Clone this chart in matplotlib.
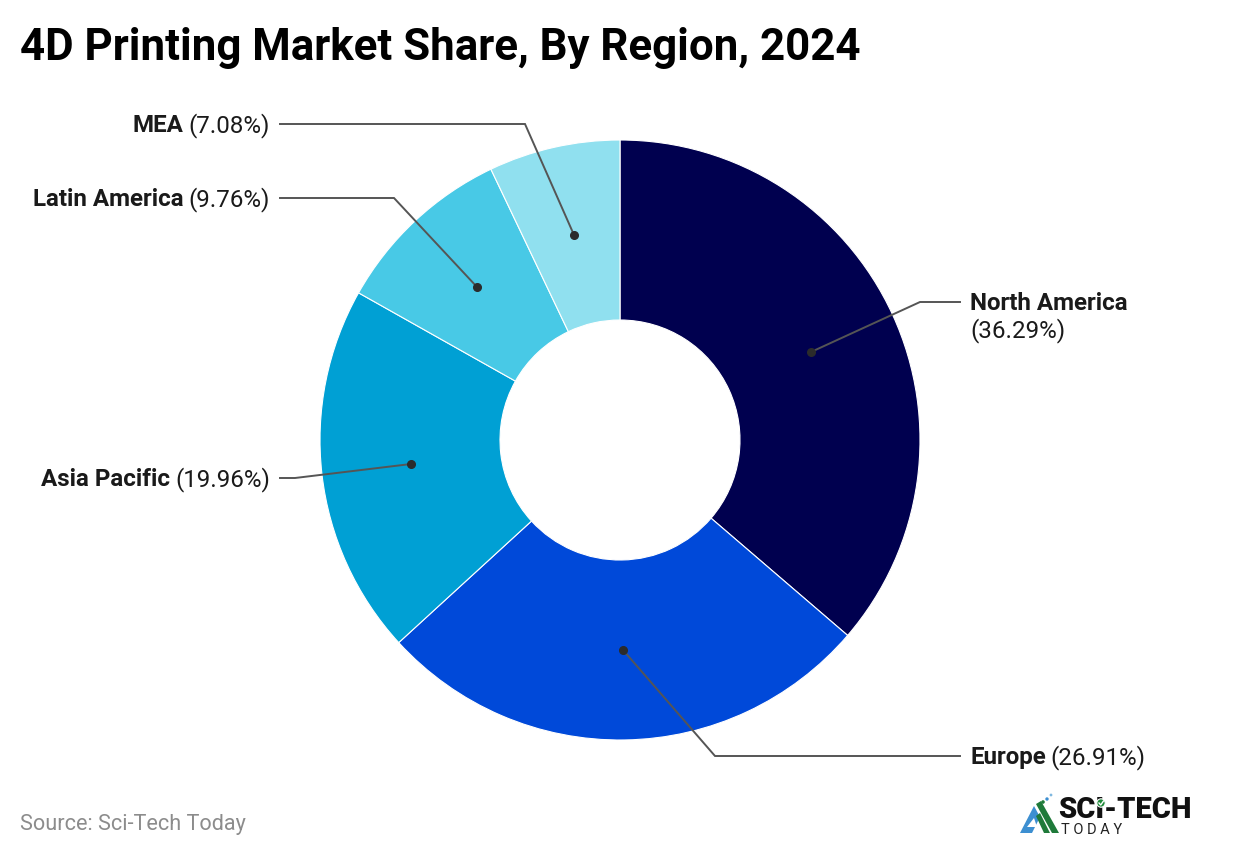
import matplotlib
matplotlib.use("Agg")
import matplotlib.pyplot as plt
from matplotlib.patches import Polygon, Circle

labels = ["North America", "Europe", "Asia Pacific", "Latin America", "MEA"]
shares = [36.29, 26.91, 19.96, 9.76, 7.08]
share_labels = ["(36.29%)", "(26.91%)", "(19.96%)", "(9.76%)", "(7.08%)"]
colors = ["#00004f", "#0049d9", "#00a0d4", "#48c9e6", "#90e0ef"]
title = "4D Printing Market Share, By Region, 2024"
source = "Source: Sci-Tech Today"

plt.rcParams['font.family'] = ['Roboto', 'DejaVu Sans']
W, H = 1240, 856
fig = plt.figure(figsize=(W/100, H/100), dpi=100)
ax = fig.add_axes([0, 0, 1, 1])

cx, cy, R, r = 620, 440, 300, 120
# y axis is inverted (pixel coordinates): angles run clockwise on screen, -90 is the top
ax.pie(shares, colors=colors, startangle=-90, counterclock=True, center=(cx, cy), radius=R,
       wedgeprops=dict(width=R-r, edgecolor='white', linewidth=0.8), frame=False)
ax.set_xlim(0, W)
ax.set_ylim(H, 0)
ax.set_aspect('auto')
ax.axis('off')

lc = "#555555"
leaders = [
    ((811, 352), (920, 302), (960, 302)),
    ((623, 650), (715, 756), (960, 756)),
    ((411, 464), (295, 478), (280, 478)),
    ((477, 287), (394, 198), (280, 198)),
    ((574, 235), (525, 124), (280, 124)),
]
for d, e, t in leaders:
    ax.plot([d[0], e[0], t[0]], [d[1], e[1], t[1]], color=lc, lw=1.4, solid_joinstyle='miter', zorder=5)
    ax.plot(*d, 'o', color="#2b2b2b", ms=5.5, zorder=6)

tc = "#1a1a1a"
fs = 17.4
dy = 1.5
def right_label(y, name, val):
    t = ax.text(270, y + dy, val, ha='right', va='center', fontsize=fs, color=tc)
    fig.canvas.draw()
    bb = t.get_window_extent()
    ax.text(bb.x0 - 5, y + dy, name, ha='right', va='center', fontsize=fs, color=tc, fontweight='bold')

right_label(478, labels[2], share_labels[2])
right_label(198, labels[3], share_labels[3])
right_label(124, labels[4], share_labels[4])
ax.text(970, 302 + dy, labels[0], ha='left', va='center', fontsize=fs, color=tc, fontweight='bold')
ax.text(970, 331, share_labels[0], ha='left', va='center', fontsize=fs, color=tc)
t = ax.text(970, 756 + dy, labels[1], ha='left', va='center', fontsize=fs, color=tc, fontweight='bold')
fig.canvas.draw()
ax.text(t.get_window_extent().x1 + 5, 756 + dy, share_labels[1], ha='left', va='center', fontsize=fs, color=tc)

ax.text(20, 47.5, title, ha='left', va='center', fontsize=31.6, fontweight='bold', color='black')
ax.text(20, 824.5, source, ha='left', va='center', fontsize=15.6, color='#8c8c8c')

# logo
blue = '#3d8fd1'
green = '#1f7a3a'
ax.add_patch(Polygon([(1020,833),(1034,806),(1040,817),(1032,833)], closed=True, fc=blue, ec='none', zorder=3))
ax.add_patch(Polygon([(1027,827),(1034,818),(1037,827)], closed=True, fc='white', ec='none', zorder=4))
ax.add_patch(Polygon([(1036,804),(1041,801),(1059,833),(1052,833)], closed=True, fc=green, ec='none', zorder=3))
ax.add_patch(Polygon([(1036,816),(1040,813),(1050,833),(1044,833)], closed=True, fc=green, ec='none', zorder=3))
ax.add_patch(Circle((1047, 799), 1.7, fc='#3d8fd1', ec='none'))
ax.add_patch(Circle((1051, 795), 1.4, fc='#7fb8e0', ec='none'))
ax.add_patch(Circle((1043, 802), 1.8, fc=green, ec='none'))
ax.text(1058, 809.5, "SCI-TECH", ha='left', va='center', fontsize=21, fontweight='black', color='#111111')
ax.add_patch(Circle((1101, 803), 4.2, fc='#1f8a3a', ec='white', lw=0.8, zorder=6))
ax.plot([1099, 1100.7, 1103.5], [803, 805, 801], color='white', lw=1, zorder=7)
ax.text(1061, 829.5, "T O D A Y", ha='left', va='center', fontsize=10.5, color='#222222')

fig.savefig("out.png", dpi=100)
